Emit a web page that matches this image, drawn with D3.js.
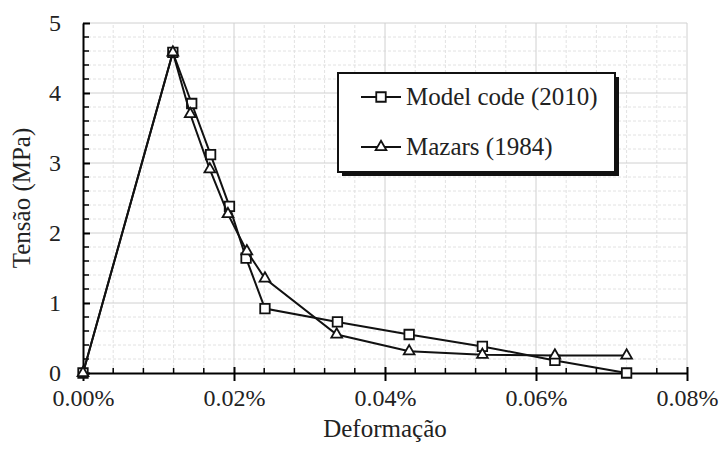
<!DOCTYPE html>
<html>
<head>
<meta charset="utf-8">
<script src="https://cdn.jsdelivr.net/npm/d3@7"></script>
<style>
  body { margin: 0; background: #fff; }
  svg text { font-family: "Liberation Serif", "Times New Roman", serif; }
</style>
</head>
<body>
<script>
// strain in %, stress in MPa
const strainModel = [0, 0.0119, 0.0144, 0.0169, 0.0194, 0.0216, 0.0241, 0.0337, 0.0432, 0.0529, 0.0625, 0.0720];
const stressModel = [0, 4.58, 3.85, 3.12, 2.38, 1.64, 0.92, 0.73, 0.55, 0.38, 0.18, 0];
const strainMazars = [0, 0.0119, 0.0142, 0.0168, 0.0192, 0.0217, 0.0241, 0.0336, 0.0432, 0.0529, 0.0625, 0.0720];
const stressMazars = [0, 4.58, 3.70, 2.91, 2.27, 1.74, 1.35, 0.55, 0.31, 0.26, 0.25, 0.25];
const seriesNames = ["Model code (2010)", "Mazars (1984)"];
const xTicks = [0, 0.02, 0.04, 0.06, 0.08];
const yTicks = [0, 1, 2, 3, 4, 5];

const width = 721, height = 450;
const margin = {top: 23, right: 34, bottom: 77, left: 83};
const serif = "Liberation Serif";

const x = d3.scaleLinear().domain([0, 0.08]).range([margin.left, width - margin.right]);
const y = d3.scaleLinear().domain([0, 5]).range([height - margin.bottom, margin.top]);

const svg = d3.select("body").append("svg")
  .attr("width", width)
  .attr("height", height)
  .attr("font-family", serif);

// grid
const xMinor = d3.range(0, 0.08 + 1e-9, 0.004);
const yMinor = d3.range(0, 5 + 1e-9, 0.2);

const grid = svg.append("g");
grid.selectAll(".vminor")
  .data(xMinor.filter((d, i) => i % 5 !== 0))
  .join("line")
    .attr("x1", d => x(d)).attr("x2", d => x(d))
    .attr("y1", y(0)).attr("y2", y(5))
    .attr("stroke", "#e2e2e2")
    .attr("stroke-dasharray", "3,2");
grid.selectAll(".hminor")
  .data(yMinor.filter((d, i) => i % 5 !== 0))
  .join("line")
    .attr("y1", d => y(d)).attr("y2", d => y(d))
    .attr("x1", x(0)).attr("x2", x(0.08))
    .attr("stroke", "#e2e2e2")
    .attr("stroke-dasharray", "3,2");
grid.selectAll(".vmajor")
  .data(xTicks.slice(1))
  .join("line")
    .attr("x1", d => x(d)).attr("x2", d => x(d))
    .attr("y1", y(0)).attr("y2", y(5))
    .attr("stroke", "#d0d0d0");
grid.selectAll(".hmajor")
  .data(yTicks.slice(1))
  .join("line")
    .attr("y1", d => y(d)).attr("y2", d => y(d))
    .attr("x1", x(0)).attr("x2", x(0.08))
    .attr("stroke", "#d0d0d0");

// axes
const xAxis = g => g
  .attr("transform", `translate(0,${y(0)})`)
  .call(d3.axisBottom(x).tickValues(xTicks).tickSize(8).tickSizeOuter(0)
    .tickFormat(d => d.toFixed(2) + "%"))
  .attr("font-family", serif)
  .call(g => g.select(".domain").attr("stroke-width", 2))
  .call(g => g.selectAll(".tick line").attr("stroke-width", 2).attr("y1", -6))
  .call(g => g.selectAll(".tick text")
    .attr("font-size", 24).attr("fill", "#222").attr("dy", "0.93em"));

const yAxis = g => g
  .attr("transform", `translate(${x(0)},0)`)
  .call(d3.axisLeft(y).tickValues(yTicks).tickSize(7).tickSizeOuter(0)
    .tickFormat(d3.format("d")))
  .attr("font-family", serif)
  .call(g => g.select(".domain").attr("stroke-width", 2))
  .call(g => g.selectAll(".tick line").attr("stroke-width", 2).attr("x2", 7))
  .call(g => g.selectAll(".tick text")
    .attr("font-size", 24).attr("fill", "#222").attr("x", -22));

// minor ticks
svg.append("g").selectAll("line")
  .data(xMinor.filter((d, i) => i % 5 !== 0))
  .join("line")
    .attr("x1", d => x(d)).attr("x2", d => x(d))
    .attr("y1", y(0)).attr("y2", y(0) - 5)
    .attr("stroke", "#000").attr("stroke-width", 1.5);
svg.append("g").selectAll("line")
  .data(yMinor.filter((d, i) => i % 5 !== 0))
  .join("line")
    .attr("y1", d => y(d)).attr("y2", d => y(d))
    .attr("x1", x(0)).attr("x2", x(0) + 6)
    .attr("stroke", "#000").attr("stroke-width", 1.5);

svg.append("g").call(xAxis);
svg.append("g").call(yAxis);

// axis titles
svg.append("text")
  .attr("x", (x(0) + x(0.08)) / 2)
  .attr("y", 437)
  .attr("text-anchor", "middle")
  .attr("font-size", 25)
  .attr("fill", "#222")
  .text("Deformação");

svg.append("text")
  .attr("transform", `translate(30,${(y(0) + y(5)) / 2}) rotate(-90)`)
  .attr("text-anchor", "middle")
  .attr("font-size", 25)
  .attr("fill", "#222")
  .text("Tensão (MPa)");

// series
const series = [
  {name: seriesNames[0], xs: strainModel, ys: stressModel, symbol: d3.symbolSquare, size: 90},
  {name: seriesNames[1], xs: strainMazars, ys: stressMazars, symbol: d3.symbolTriangle, size: 50}
];

const line = d3.line().x(d => x(d[0])).y(d => y(d[1]));

series.forEach(s => {
  const pts = s.xs.map((v, i) => [v, s.ys[i]]);
  svg.append("path")
    .datum(pts)
    .attr("fill", "none")
    .attr("stroke", "#111")
    .attr("stroke-width", 2)
    .attr("d", line);
  svg.append("g").selectAll("path")
    .data(pts)
    .join("path")
      .attr("transform", d => `translate(${x(d[0])},${y(d[1])})`)
      .attr("d", d3.symbol(s.symbol, s.size))
      .attr("fill", "#fff")
      .attr("stroke", "#111")
      .attr("stroke-width", 1.8);
});

// legend
const legend = svg.append("g").attr("transform", "translate(338,73)");
legend.append("rect")
  .attr("x", 4).attr("y", 4)
  .attr("width", 277).attr("height", 99)
  .attr("fill", "#111");
legend.append("rect")
  .attr("width", 277).attr("height", 99)
  .attr("fill", "#fff")
  .attr("stroke", "#111")
  .attr("stroke-width", 2);

series.forEach((s, i) => {
  const row = legend.append("g").attr("transform", `translate(0,${24 + i * 50})`);
  row.append("line")
    .attr("x1", 23).attr("x2", 63)
    .attr("stroke", "#111").attr("stroke-width", 2);
  row.append("path")
    .attr("transform", "translate(43,0)")
    .attr("d", d3.symbol(s.symbol, s.size))
    .attr("fill", "#fff")
    .attr("stroke", "#111")
    .attr("stroke-width", 1.8);
  row.append("text")
    .attr("x", 68)
    .attr("dy", "0.33em")
    .attr("font-size", 25)
    .attr("fill", "#222")
    .text(s.name);
});
</script>
</body>
</html>
